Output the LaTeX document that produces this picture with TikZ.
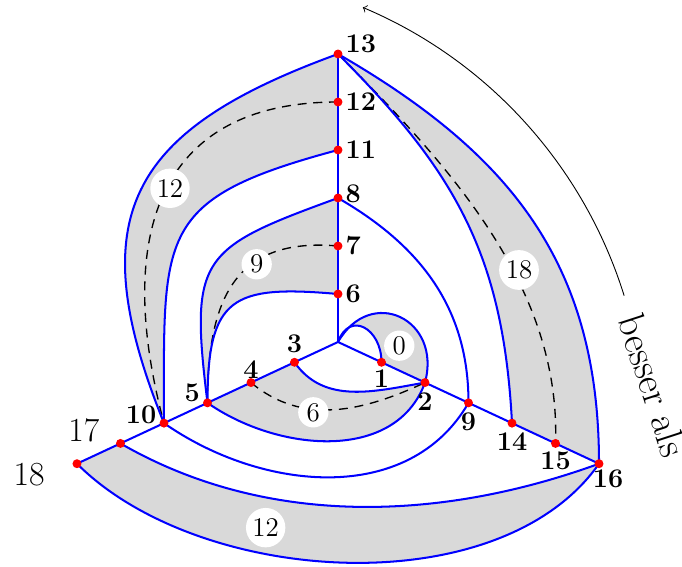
\documentclass[tikz,border=0pt]{standalone}
\usepackage{fontspec}
\usepackage{tikz}
\usetikzlibrary{positioning}
\definecolor{bandgray}{RGB}{217,217,217}
\tikzset{
	ray/.style={
		draw=blue,
		line width=0.9pt
	},
	band/.style={
		fill=bandgray
	},
	mid/.style={
		draw=black,
		line width=0.6pt,
		dash pattern=on 4pt off 3pt
	},
	dot/.style={
		circle,
		fill=red,
		inner sep=0pt,
		minimum size=0.14cm
	},
	lab/.style={
		inner sep=1pt,
		font=\large\bfseries
	},
	outlab/.style={
		inner sep=1pt,
		font=\fontsize{15}{18}\selectfont
	},
	weight/.style={
		circle,
		fill=white,
		inner sep=1.2pt,
		font=\large
	}
}

\begin{document}
\begin{tikzpicture}[x=0.75cm, y=0.75cm]
	\useasboundingbox (-7.0417,-4.6875) rectangle (7.1667,7.125);
	
	% points on the three rays
	\coordinate (o) at (0,0);
	\foreach \k/\nm in {1/6, 2/7, 3/8, 4/11, 5/12, 6/13}
		\coordinate (c\nm) at (90:\k);
	\foreach \k/\nm in {1/1, 2/2, 3/9, 4/14, 5/15, 6/16}
		\coordinate (c\nm) at (-25:\k);
	\foreach \k/\nm in {1/3, 2/4, 3/5, 4/10, 5/17, 6/18}
		\coordinate (c\nm) at (205:\k);
	
	% shaded bands
	\fill[band] (o) to[out=60, in=75, looseness=1.75] (c2) -- (c1)
		to[out=90, in=70, looseness=1.8] (o) -- cycle;
	\fill[band] (c3) to[out=-55, in=190] (c2)
		to[out=-110, in=-35] (c5) -- cycle;
	\fill[band] (c6) to[out=175, in=90, looseness=1.6] (c5)
		to[out=97, in=200, looseness=1.55] (c8) -- cycle;
	\fill[band] (c11) to[out=195, in=90, looseness=1.5] (c10)
		to[out=112, in=200, looseness=1.4] (c13) -- cycle;
	\fill[band] (c13) to[out=-30, in=90, looseness=1.05] (c16) -- (c14)
		to[out=93, in=-45, looseness=1.05] (c13) -- cycle;
	\fill[band] (c17) to[out=-30, in=200, looseness=0.9] (c16)
		to[out=-125, in=-45, looseness=0.85] (c18) -- cycle;
	
	% middle lines
	\draw[mid] (c4) to[out=-40, in=205] (c2);
	\draw[mid] (c7) to[out=175, in=90, looseness=1.3] (c5);
	\draw[mid] (c12) to[out=180, in=105, looseness=1.3] (c10);
	\draw[mid] (c13) to[out=-45, in=88, looseness=0.9] (c15);
	
	% rays
	\draw[ray] (o) -- (c13);
	\draw[ray] (o) -- (c16);
	\draw[ray] (o) -- (c18);
	
	% band borders
	\draw[ray] (o) to[out=70, in=90, looseness=1.8] (c1);
	\draw[ray] (o) to[out=60, in=75, looseness=1.75] (c2);
	\draw[ray] (c3) to[out=-55, in=190] (c2);
	\draw[ray] (c5) to[out=-35, in=-110] (c2);
	\draw[ray] (c6) to[out=175, in=90, looseness=1.6] (c5);
	\draw[ray] (c8) to[out=200, in=97, looseness=1.55] (c5);
	\draw[ray] (c8) to[out=-30, in=90] (c9);
	\draw[ray] (c9) to[out=-120, in=-35] (c10);
	\draw[ray] (c11) to[out=195, in=90, looseness=1.5] (c10);
	\draw[ray] (c13) to[out=200, in=112, looseness=1.4] (c10);
	\draw[ray] (c13) to[out=-45, in=93, looseness=1.05] (c14);
	\draw[ray] (c13) to[out=-30, in=90, looseness=1.05] (c16);
	\draw[ray] (c17) to[out=-30, in=200, looseness=0.9] (c16);
	\draw[ray] (c18) to[out=-45, in=-125, looseness=0.85] (c16);
	
	% dots
	\foreach \nm in {1,...,18}
		\node[dot] (n\nm) at (c\nm) {};
	
	% weights
	\node[weight] (w0)  at (1.277,-0.077) {0};
	\node[weight] (w6)  at (-0.514,-1.465) {6};
	\node[weight] (w9)  at (-1.694,1.619) {9};
	\node[weight] (w12) at (-3.5,3.202) {12};
	\node[weight] (w18) at (3.771,1.5) {18};
	\node[weight] (w12b) at (-1.507,-3.868) {12};
	
	% point labels
	\node[lab, right=0pt of n13, yshift=4.7pt] (l13) {13};
	\node[lab, right=0pt of n12] (l12) {12};
	\node[lab, right=0pt of n11] (l11) {11};
	\node[lab, right=0pt of n8, yshift=1.8pt] (l8) {8};
	\node[lab, right=0pt of n7] (l7) {7};
	\node[lab, right=0pt of n6] (l6) {6};
	\node[lab, below=0pt of n1] (l1) {1};
	\node[lab, below=1pt of n2] (l2) {2};
	\node[lab, below=1pt of n9] (l9) {9};
	\node[lab, below=0.7pt of n14] (l14) {14};
	\node[lab, below=0.4pt of n15] (l15) {15};
	\node[lab, below=-0.5pt of n16, xshift=4pt] (l16) {16};
	\node[lab, above=1pt of n3] (l3) {3};
	\node[lab, above=-1.5pt of n4] (l4) {4};
	\node[lab, left=0pt of n5, yshift=4.4pt] (l5) {5};
	\node[lab, left=0pt of n10, yshift=3.7pt] (l10) {10};
	\node[outlab, left=6pt of n17, yshift=6pt] (l17) {17};
	\node[outlab, left=11pt of n18, yshift=-5pt] (l18) {18};
	
	% direction arrow
	\coordinate (a0) at (5.961,0.966);
	\draw[->] (a0) arc[start angle=17.3, end angle=67.1, radius=9.625];
	\node[rotate=-72, font=\LARGE] (besser) at (6.56,-0.9) {besser als};
	
\end{tikzpicture}
\end{document}
